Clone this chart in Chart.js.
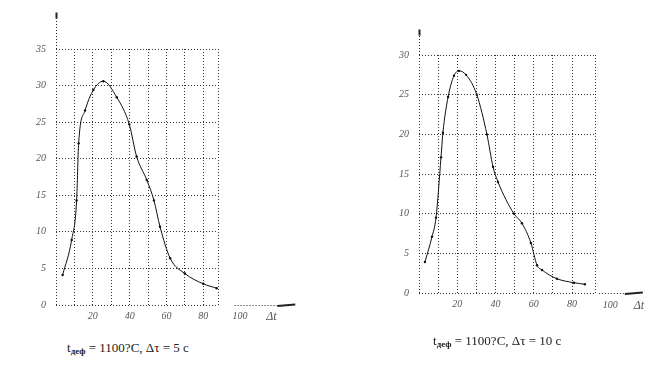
<!DOCTYPE html>
<html>
<head>
<meta charset="utf-8">
<script src="https://cdn.jsdelivr.net/npm/chart.js@4.4.0/dist/chart.umd.min.js"></script>
<style>
    body { margin: 0; background: #fff; width: 650px; height: 371px; position: relative; overflow: hidden; font-family: 'Liberation Serif', serif; }
    .box { position: absolute; top: 0; width: 325px; height: 335px; }
    .cap { position: absolute; font-size: 13px; color: #222; white-space: nowrap; }
    .cap sub { font-size: 9px; font-weight: bold; vertical-align: -2px; color: #222; }
</style>
</head>
<body>
<div class="box" style="left:0"><canvas id="chart5"></canvas></div>
<div class="box" style="left:325px"><canvas id="chart10"></canvas></div>
<div class="cap" style="left:67px;top:340px">t<sub>деф</sub> = 1100?С, Δτ = 5 с</div>
<div class="cap" style="left:433px;top:333px">t<sub>деф</sub> = 1100?С, Δτ = 10 с</div>

<script>
// Δτ = 5 c
const x5 = [3.6, 8.5, 11.2, 12.3, 15.8, 20.3, 25.7, 33, 39.8, 43.8, 49.3, 53.2, 56.5, 62, 70, 80, 87.3];
const y5 = [4.1, 8.9, 14.3, 22.1, 26.6, 29.4, 30.6, 28.4, 24.7, 20.3, 17.1, 14.3, 10.7, 6.4, 4.3, 2.9, 2.3];
const xGrid5 = [0, 10, 20, 30, 40, 50, 60, 70, 80, 88];
const yMax5 = 35;

// Δτ = 10 c
const x10 = [3.1, 6.8, 8.9, 11.5, 12.5, 15.2, 18.3, 20.9, 24.6, 30.2, 35.5, 38.7, 41.3, 49.6, 53.8, 58.5, 61.7, 64.3, 72.1, 81, 86.7];
const y10 = [3.9, 7.1, 9.5, 17.1, 20.2, 24.7, 27.4, 28, 27.5, 25, 20, 15.9, 14, 10, 8.8, 6.3, 3.5, 2.9, 1.8, 1.3, 1.1];
const xGrid10 = [0, 10, 20, 30, 40, 50, 60, 70, 80, 92];
const yMax10 = 30;

const xLabelStep = 20;
const extraTick = 100;
const xAxisName = 'Δt';

const tickFont = { family: "'Liberation Serif', serif", size: 10, style: 'italic' };

// dotted axis extensions with arrows + the "100" tick and axis name
const axisArrows = {
    id: 'axisArrows',
    afterDraw(chart, args, opts) {
        const { ctx, chartArea } = chart;
        const sx = chart.scales.x, sy = chart.scales.y;
        const x0 = Math.round(sx.getPixelForValue(0)) + 0.5;
        const y0 = Math.round(sy.getPixelForValue(0)) + 0.5;
        const yTop = sy.getPixelForValue(opts.yEnd);
        const xa = sx.getPixelForValue(opts.xFrom);
        const xb = sx.getPixelForValue(opts.xEnd);
        ctx.save();
        ctx.strokeStyle = '#222';
        ctx.lineWidth = 1;
        ctx.setLineDash([1, 2]);
        ctx.beginPath();
        ctx.moveTo(x0, chartArea.top);
        ctx.lineTo(x0, yTop + 6);
        ctx.moveTo(xa, y0);
        ctx.lineTo(xb - 18, y0);
        ctx.stroke();
        ctx.setLineDash([]);
        ctx.lineWidth = 2;
        ctx.beginPath();
        ctx.moveTo(x0, yTop + 6);
        ctx.lineTo(x0, yTop);
        ctx.moveTo(xb - 18, y0 + 0.5);
        ctx.lineTo(xb, y0 - 1);
        ctx.stroke();

        ctx.font = "italic 10px 'Liberation Serif', serif";
        ctx.fillStyle = '#555';
        ctx.textAlign = 'center';
        ctx.textBaseline = 'middle';
        ctx.fillText(String(extraTick), sx.getPixelForValue(extraTick), y0 + opts.labelGap);
        ctx.font = "italic 12px 'Liberation Serif', serif";
        ctx.fillText(xAxisName, sx.getPixelForValue(opts.nameAt), y0 + opts.labelGap);
        ctx.restore();
    }
};

function makeChart(id, xs, ys, xGrid, yMax, layout, arrows) {
    const ctx = document.getElementById(id);
    return new Chart(ctx, {
        type: 'line',
        data: {
            datasets: [{
                data: xs.map((x, i) => ({ x: x, y: ys[i] })),
                borderColor: '#111',
                borderWidth: 1,
                pointRadius: 1.2,
                pointBackgroundColor: '#111',
                pointBorderWidth: 0,
                cubicInterpolationMode: 'monotone',
                fill: false
            }]
        },
        options: {
            responsive: true,
            maintainAspectRatio: false,
            animation: false,
            layout: { padding: layout },
            plugins: {
                legend: { display: false },
                tooltip: { enabled: false },
                axisArrows: arrows
            },
            scales: {
                x: {
                    type: 'linear',
                    min: 0,
                    max: xGrid[xGrid.length - 1],
                    afterBuildTicks: (scale) => { scale.ticks = xGrid.map(v => ({ value: v })); },
                    afterFit: (scale) => { scale.height = 20; },
                    grid: { color: '#333', drawTicks: false },
                    border: { display: false, dash: [1, 2] },
                    ticks: {
                        autoSkip: false,
                        maxRotation: 0,
                        padding: 5,
                        color: '#555',
                        font: tickFont,
                        callback: (v) => (v > 0 && v % xLabelStep === 0) ? v : ''
                    }
                },
                y: {
                    min: 0,
                    max: yMax,
                    afterFit: (scale) => { scale.width = 22; },
                    grid: { color: '#333', drawTicks: false },
                    border: { display: false, dash: [1, 2] },
                    ticks: { stepSize: 5, padding: 10, color: '#555', font: tickFont }
                }
            }
        },
        plugins: [axisArrows]
    });
}

makeChart('chart5', x5, y5, xGrid5, yMax5,
    { left: 34, top: 49, right: 107, bottom: 10 },
    { yEnd: 40, xFrom: 97, xEnd: 130, nameAt: 117, labelGap: 11 });

makeChart('chart10', x10, y10, xGrid10, yMax10,
    { left: 72, top: 55, right: 55, bottom: 22 },
    { yEnd: 33.2, xFrom: 94, xEnd: 117, nameAt: 115, labelGap: 12 });
</script>
</body>
</html>
